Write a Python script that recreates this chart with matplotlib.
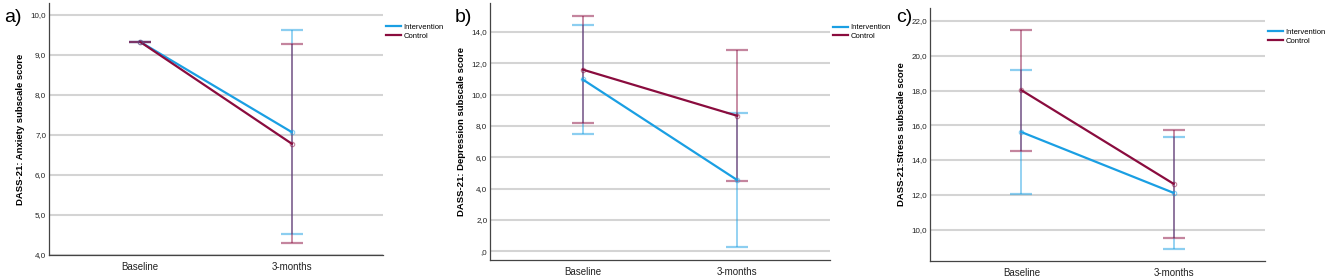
import numpy as np
import matplotlib.pyplot as plt

plt.rcParams['font.family'] = ['Liberation Sans', 'DejaVu Sans']

# dados
momentos = ["Baseline", "3-months"]
grupos = ["Intervention", "Control"]

ans_int = [9.33, 7.07]
ans_int_lo = [9.33, 4.53]
ans_int_hi = [9.33, 9.62]
ans_ctl = [9.33, 6.78]
ans_ctl_lo = [9.33, 4.31]
ans_ctl_hi = [9.33, 9.27]

dep_int = [10.97, 4.55]
dep_int_lo = [7.50, 0.26]
dep_int_hi = [14.43, 8.86]
dep_ctl = [11.60, 8.65]
dep_ctl_lo = [8.22, 4.46]
dep_ctl_hi = [15.00, 12.83]

est_int = [15.61, 12.11]
est_int_lo = [12.05, 8.90]
est_int_hi = [19.17, 15.34]
est_ctl = [18.02, 12.63]
est_ctl_lo = [14.53, 9.50]
est_ctl_hi = [21.50, 15.75]

ticks_a = [4, 5, 6, 7, 8, 9, 10]
labels_a = ["4,0", "5,0", "6,0", "7,0", "8,0", "9,0", "10,0"]
ticks_b = [0, 2, 4, 6, 8, 10, 12, 14]
labels_b = [",0", "2,0", "4,0", "6,0", "8,0", "10,0", "12,0", "14,0"]
ticks_c = [10, 12, 14, 16, 18, 20, 22]
labels_c = ["10,0", "12,0", "14,0", "16,0", "18,0", "20,0", "22,0"]

azul = "#1a9fe3"
vinho = "#8a0c3e"

W, H = 1325, 279
fig = plt.figure(figsize=(W / 100, H / 100), dpi=100)


def painel(px_left, px_right, px_top, px_bottom, ylim, ticks, labels, ylabel,
           letra, letra_x, series):
    ax = fig.add_axes([px_left / W, 1 - px_bottom / H,
                       (px_right - px_left) / W, (px_bottom - px_top) / H])
    x = np.arange(len(momentos))
    for (m, lo, hi, cor, nome) in series:
        m = np.array(m)
        err = [m - np.array(lo), np.array(hi) - m]
        ax.errorbar(x, m, yerr=err, fmt='none', ecolor=cor, alpha=0.5,
                    elinewidth=1.3, capsize=8, capthick=1.6, zorder=3)
        ax.plot(x, m, color=cor, lw=1.6, label=nome, zorder=4)
        ax.plot(x, m, 'o', ms=3.2, mfc='none', mec=cor, mew=0.8, alpha=0.5,
                zorder=5)
    ax.set_xlim(-0.6, 1.6)
    ax.set_ylim(*ylim)
    ax.set_yticks(ticks)
    ax.set_yticklabels(labels, fontsize=5.8, color="#222222")
    ax.set_xticks(x)
    ax.set_xticklabels(momentos, fontsize=7, color="#222222")
    ax.tick_params(length=0, axis='y', pad=2)
    ax.tick_params(length=0, axis='x', pad=5)
    ax.yaxis.grid(True, color="#d4d4d4", lw=1.5)
    ax.set_axisbelow(True)
    for s in ['top', 'right']:
        ax.spines[s].set_visible(False)
    for s in ['left', 'bottom']:
        ax.spines[s].set_color("#444444")
        ax.spines[s].set_linewidth(0.9)
    ax.set_ylabel(ylabel, fontsize=6.8, fontweight='bold', labelpad=4)
    ax.legend(loc='upper left', bbox_to_anchor=(1.0, 0.93), frameon=False,
              borderaxespad=0, handlelength=2.0, handletextpad=0.3,
              labelspacing=0.15, fontsize=5.5)
    fig.text(letra_x / W, 1 - 18 / H, letra, fontsize=14, va='center',
             ha='left')
    return ax


painel(49, 383, 3, 255, (4.0, 10.3), ticks_a, labels_a,
       "DASS-21: Anxiety subscale score", "a)", 4,
       [(ans_int, ans_int_lo, ans_int_hi, azul, grupos[0]),
        (ans_ctl, ans_ctl_lo, ans_ctl_hi, vinho, grupos[1])])

painel(490, 830, 3, 260, (-0.55, 15.85), ticks_b, labels_b,
       "DASS-21: Depression subscale score", "b)", 455,
       [(dep_int, dep_int_lo, dep_int_hi, azul, grupos[0]),
        (dep_ctl, dep_ctl_lo, dep_ctl_hi, vinho, grupos[1])])

painel(930, 1265, 8, 261, (8.19, 22.75), ticks_c, labels_c,
       "DASS-21:Stress subscale score", "c)", 896,
       [(est_int, est_int_lo, est_int_hi, azul, grupos[0]),
        (est_ctl, est_ctl_lo, est_ctl_hi, vinho, grupos[1])])

fig.savefig("out.png", dpi=100)
